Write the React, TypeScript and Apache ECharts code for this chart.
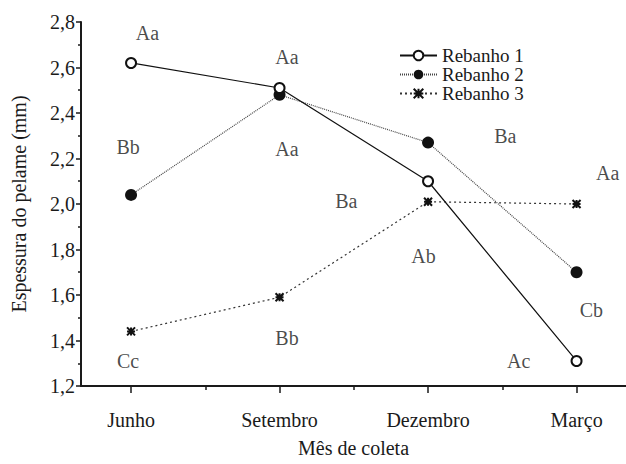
import React, { useEffect, useRef } from "react";
import * as echarts from "echarts";

const months = ["Junho", "Setembro", "Dezembro", "Março"];
const monthPos = [1, 2, 3, 4];
const minorPos = [1.5, 2.5, 3.5];

const rebanho1 = [2.62, 2.51, 2.1, 1.31];
const rebanho2 = [2.04, 2.48, 2.27, 1.7];
const rebanho3 = [1.44, 1.59, 2.01, 2.0];

const seriesNames = ["Rebanho 1", "Rebanho 2", "Rebanho 3"];

// significance letters and their anchor (x in month units, y in mm)
const annoText = ["Aa", "Aa", "Bb", "Aa", "Ba", "Aa", "Ba", "Cc", "Bb", "Ab", "Cb", "Ac"];
const annoX = [1.11, 2.05, 0.98, 2.05, 3.52, 4.21, 2.45, 0.98, 2.05, 2.97, 4.1, 3.61];
const annoY = [2.75, 2.645, 2.25, 2.24, 2.3, 2.135, 2.015, 1.31, 1.41, 1.77, 1.535, 1.31];

const FONT = "Liberation Serif";
const INK = "#1a1a1a";
const asterisk = "path://M0,0L8,8M8,0L0,8M4,0L4,8M0,4L8,4";

export default function App() {
  const ref = useRef<HTMLDivElement>(null);
  useEffect(() => {
    if (!ref.current) return;
    const chart = echarts.init(ref.current, undefined, { renderer: "svg" });
    const pair = (arr: number[]) => arr.map((v, i) => [monthPos[i], v]);
    chart.setOption({
      animation: false,
      textStyle: { fontFamily: FONT, fontSize: 20, color: INK },
      grid: { left: 81, right: 0, top: 22, bottom: 78, containLabel: false },
      legend: {
        left: 394,
        top: 41,
        orient: "vertical",
        itemWidth: 37,
        itemHeight: 12,
        itemGap: 0,
        textStyle: { fontFamily: FONT, fontSize: 19, color: INK, lineHeight: 19 },
        data: seriesNames,
      },
      xAxis: [
        {
          type: "value",
          min: 0.663,
          max: 4.333,
          splitLine: { show: false },
          axisLine: { onZero: false, lineStyle: { color: INK, width: 2 } },
          axisTick: { customValues: monthPos, length: 7, lineStyle: { color: INK, width: 1.5 } },
          axisLabel: {
            customValues: monthPos,
            formatter: (v: number) => months[Math.round(v) - 1] ?? "",
            margin: 24,
            fontFamily: FONT,
            fontSize: 20,
            color: INK,
          },
          name: "Mês de coleta",
          nameLocation: "middle",
          nameGap: 52,
          nameTextStyle: { fontFamily: FONT, fontSize: 20, color: INK },
        },
        {
          type: "value",
          min: 0.663,
          max: 4.333,
          position: "bottom",
          splitLine: { show: false },
          axisLine: { show: false, onZero: false },
          axisTick: { customValues: minorPos, length: 4, lineStyle: { color: INK, width: 1.5 } },
          axisLabel: { show: false },
        },
      ],
      yAxis: {
        type: "value",
        min: 1.2,
        max: 2.8,
        interval: 0.2,
        splitLine: { show: false },
        axisLine: { show: true, onZero: false, lineStyle: { color: INK, width: 2 } },
        axisTick: { show: true, length: 5, lineStyle: { color: INK, width: 1.5 } },
        minorTick: { show: true, splitNumber: 2, length: 3, lineStyle: { color: INK, width: 1.5 } },
        axisLabel: {
          formatter: (v: number) => v.toFixed(1).replace(".", ","),
          margin: 6,
          fontFamily: FONT,
          fontSize: 20,
          color: INK,
        },
        name: "Espessura do pelame (mm)",
        nameLocation: "middle",
        nameGap: 52,
        nameTextStyle: { fontFamily: FONT, fontSize: 20, color: INK },
      },
      series: [
        {
          name: seriesNames[0],
          type: "line",
          data: pair(rebanho1),
          symbol: "circle",
          symbolSize: 10,
          lineStyle: { color: "#111", width: 1.2, type: "solid" },
          itemStyle: { color: "#fff", borderColor: "#111", borderWidth: 2 },
          z: 3,
        },
        {
          name: seriesNames[1],
          type: "line",
          data: pair(rebanho2),
          symbol: "circle",
          symbolSize: 12,
          lineStyle: { color: "#444", width: 1.2, type: [1, 1] },
          itemStyle: { color: "#111", borderColor: "#111", borderWidth: 0 },
          z: 2,
        },
        {
          name: seriesNames[2],
          type: "line",
          data: pair(rebanho3),
          symbol: asterisk,
          symbolSize: 8,
          lineStyle: { color: "#333", width: 1.2, type: [2, 3] },
          itemStyle: { color: "#111", borderColor: "#111", borderWidth: 2 },
          z: 2,
        },
        {
          name: "letras",
          type: "scatter",
          data: annoText.map((t, i) => ({ value: [annoX[i], annoY[i]], name: t })),
          symbolSize: 0,
          silent: true,
          label: {
            show: true,
            position: "inside",
            formatter: (p: any) => p.name,
            fontFamily: FONT,
            fontSize: 20,
            color: INK,
          },
          z: 5,
        },
      ],
    });
    return () => chart.dispose();
  }, []);
  return <div ref={ref} style={{ width: 626, height: 464, position: "absolute", left: 0, top: 0, background: "#fff" }} />;
}
